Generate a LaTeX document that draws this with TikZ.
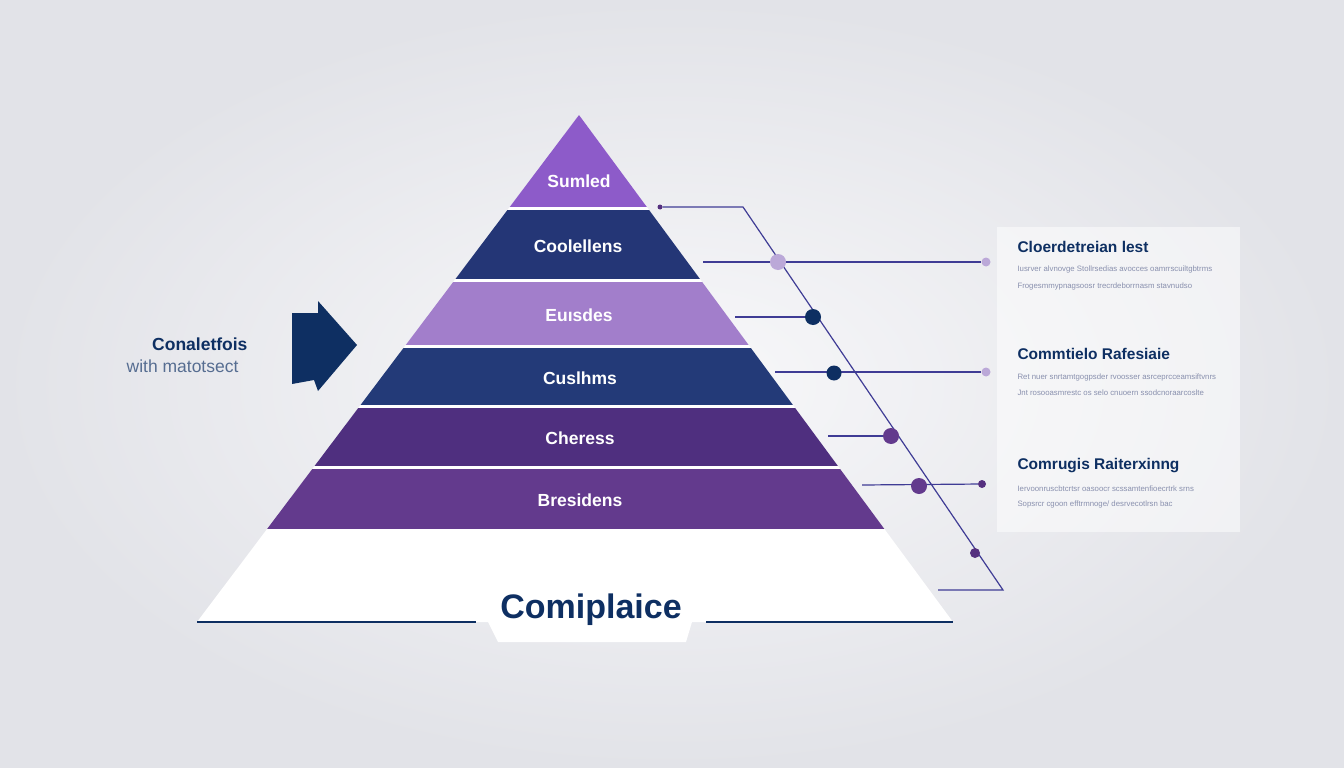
\documentclass[tikz,border=0pt]{standalone}
\usepackage{fontspec}
\setmainfont{Liberation Sans}
\usepackage{tikz}
\usetikzlibrary{positioning}
\definecolor{bgin}{HTML}{F8F8FA}
\definecolor{bgout}{HTML}{E2E3E8}
\definecolor{lvone}{HTML}{8D5BC9}
\definecolor{lvtwo}{HTML}{243676}
\definecolor{lvthree}{HTML}{A27ECB}
\definecolor{lvfour}{HTML}{233A78}
\definecolor{lvfive}{HTML}{4F2F7F}
\definecolor{lvsix}{HTML}{633A8D}
\definecolor{navy}{HTML}{0E2F62}
\definecolor{linkc}{HTML}{3F3C95}
\definecolor{dotlight}{HTML}{BBA8D8}
\definecolor{dotdark}{HTML}{55307F}
\definecolor{subgray}{HTML}{8990AE}

\begin{document}
\begin{tikzpicture}[
  x=1pt, y=-1pt,
  lbl/.style={font=\fontsize{17.5}{19}\selectfont\bfseries, text=white},
  ttl/.style={font=\fontsize{15.5}{17}\selectfont\bfseries, text=navy, anchor=west},
  sub/.style={font=\fontsize{7.8}{9}\selectfont, text=subgray, anchor=west},
  dot/.style={circle, inner sep=0pt, minimum size=#1},
  link/.style={draw=linkc, line width=1.2pt},
]
  % background
  \shade[inner color=bgin, outer color=bgout] (0,0) rectangle (1344,768);
  \useasboundingbox (0,0) rectangle (1344,768);

  % pyramid
  \fill[white] (579,115) -- (197,622) -- (953,622) -- cycle;
  \fill[white] (488,622) -- (498,642) -- (686,642) -- (692,622) -- cycle;
  \begin{scope}
    \clip (579,115) -- (197,622) -- (953,622) -- cycle;
    \fill[lvone]   (150,100) rectangle (1000,207);
    \fill[lvtwo]   (150,210) rectangle (1000,279);
    \fill[lvthree] (150,282) rectangle (1000,345);
    \fill[lvfour]  (150,348) rectangle (1000,405);
    \fill[lvfive]  (150,408) rectangle (1000,466);
    \fill[lvsix]   (150,469) rectangle (1000,529);
  \end{scope}
  \draw[navy, line width=1.3pt] (197,622) -- (476,622);
  \draw[navy, line width=1.3pt] (706,622) -- (953,622);

  \node[lbl] (sumled)  at (579,181) {Sumled};
  \node[lbl] (cooll)   at (578,246) {Coolellens};
  \node[lbl] (euns)    at (579,315) {Euısdes};
  \node[lbl] (custh)   at (580,378) {Cuslhms};
  \node[lbl] (cher)    at (580,438) {Cheress};
  \node[lbl] (bres)    at (580,500) {Bresidens};
  \node[font=\fontsize{34}{36}\selectfont\bfseries, text=navy] (compl) at (591,610) {Comiplaice};

  % left
  \fill[navy] (292,313) -- (318,313) -- (318,301) -- (357,345) -- (318,391)
    -- (314,380) -- (292,384) -- cycle;
  \node[font=\fontsize{17.5}{19}\selectfont\bfseries, text=navy, anchor=east] (conal) at (251,344) {Conaletfois};
  \node[font=\fontsize{17.5}{19}\selectfont, text=navy!70, anchor=east] (witht) at (242,366) {with matotsect};

  % right panel
  \fill[white, opacity=0.5] (997,227) rectangle (1240,532);
  \node[ttl] (ta) at (1014,247) {Cloerdetreian lest};
  \node[sub] (ta1) at (1014,269) {Iusrver alvnovge Stollrsedias avocces oamrrscuiltgbtrms};
  \node[sub] (ta2) at (1014,286) {Frogesmmypnagsoosr trecrdeborrnasm stavnudso};
  \node[ttl] (tb) at (1014,354) {Commtielo Rafesiaie};
  \node[sub] (tb1) at (1014,377) {Ret nuer snrtamtgogpsder rvoosser asrceprcceamsiftvnrs};
  \node[sub] (tb2) at (1014,393) {Jnt rosooasmrestc os selo cnuoern ssodcnoraarcoslte};
  \node[ttl] (tc) at (1014,466) {Comrugis Raiterxinng};
  \node[sub] (tc1) at (1014,489) {Iervoonruscbtcrtsr oasoocr scssamtenfioecrtrk srns};
  \node[sub] (tc2) at (1014,504) {Sopsrcr cgoon efftrmnoge/ desrvecotlrsn bac};

  % connectors
  \coordinate (ca) at (743,207);
  \coordinate (cb) at (1003,590);
  \coordinate (cc) at (938,590);
  \coordinate (s1) at (703,262);
  \coordinate (s2) at (735,317);
  \coordinate (s3) at (775,372);
  \coordinate (s4) at (828,436);
  \coordinate (s5) at (862,485);
  \node[dot=5pt, fill=dotdark] (d0) at (660,207) {};
  \node[dot=9pt, fill=dotlight] (e1) at (986,262) {};
  \node[dot=9pt, fill=dotlight] (e3) at (986,372) {};
  \node[dot=8pt, fill=dotdark] (e5) at (982,484) {};

  \draw[link] (d0) -- (ca) -- (cb) -- (cc);
  \draw[link] (s1) -- (e1);
  \draw[link] (s2) -- (813,317);
  \draw[link] (s3) -- (e3);
  \draw[link] (s4) -- (891,436);
  \draw[link] (s5) -- (e5);

  \node[dot=16pt, fill=dotlight] (d1) at (778,262) {};
  \node[dot=16pt, fill=navy] (d2) at (813,317) {};
  \node[dot=15pt, fill=navy] (d3) at (834,373) {};
  \node[dot=16pt, fill=lvsix] (d4) at (891,436) {};
  \node[dot=16pt, fill=lvsix] (d5) at (919,486) {};
  \node[dot=10pt, fill=dotdark] (d6) at (975,553) {};
\end{tikzpicture}
\end{document}
